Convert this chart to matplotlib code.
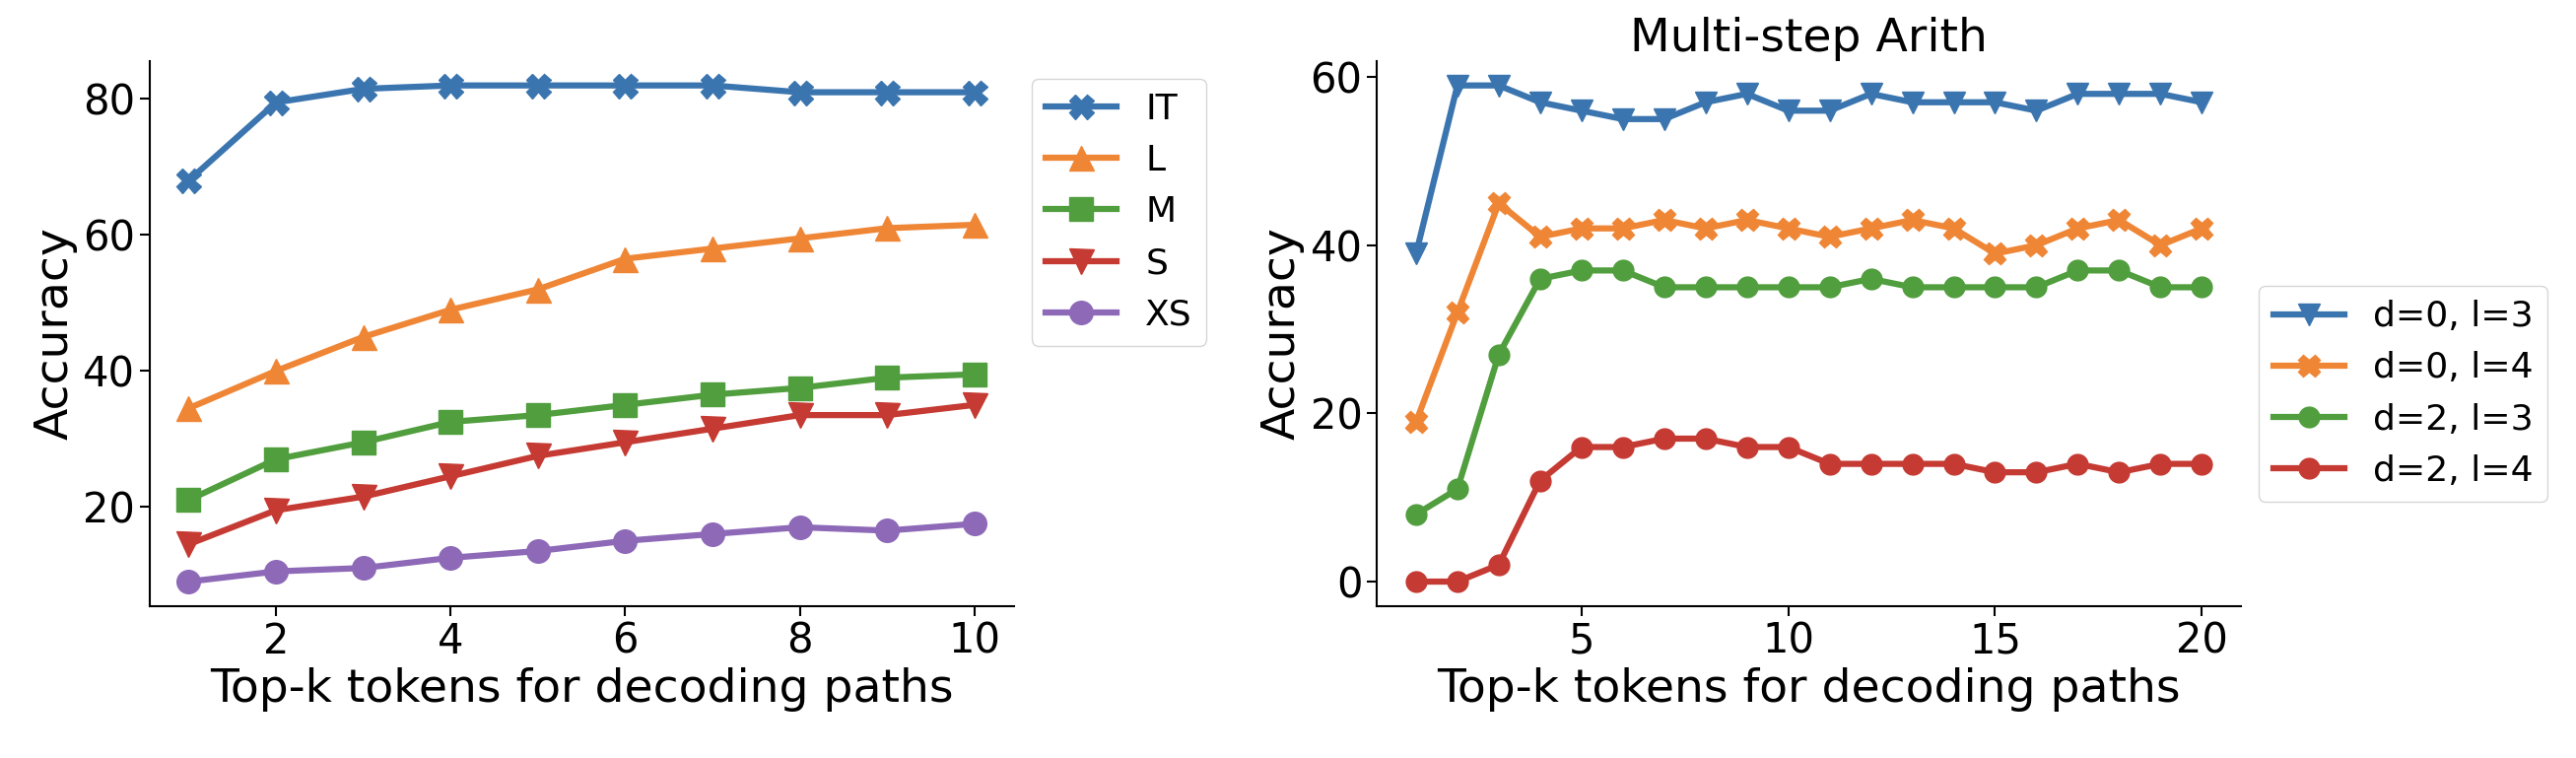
import matplotlib.pyplot as plt
import numpy as np

# left panel
k_left = np.arange(1, 11)
it_acc = [68, 79.5, 81.5, 82, 82, 82, 82, 81, 81, 81]
l_acc = [34.5, 40, 45, 49, 52, 56.5, 58, 59.5, 61, 61.5]
m_acc = [21, 27, 29.5, 32.5, 33.5, 35, 36.5, 37.5, 39, 39.5]
s_acc = [14.5, 19.5, 21.5, 24.5, 27.5, 29.5, 31.5, 33.5, 33.5, 35]
xs_acc = [9, 10.5, 11, 12.5, 13.5, 15, 16, 17, 16.5, 17.5]

# right panel
k_right = np.arange(1, 21)
d0_l3 = [39, 59, 59, 57, 56, 55, 55, 57, 58, 56, 56, 58, 57, 57, 57, 56, 58, 58, 58, 57]
d0_l4 = [19, 32, 45, 41, 42, 42, 43, 42, 43, 42, 41, 42, 43, 42, 39, 40, 42, 43, 40, 42]
d2_l3 = [8, 11, 27, 36, 37, 37, 35, 35, 35, 35, 35, 36, 35, 35, 35, 35, 37, 37, 35, 35]
d2_l4 = [0, 0, 2, 12, 16, 16, 17, 17, 16, 16, 14, 14, 14, 14, 13, 13, 14, 13, 14, 14]

blue, orange, green, red, purple = '#3b75af', '#ef8636', '#519e3e', '#c53a32', '#8d69b8'

plt.rcParams['font.size'] = 26
fig, (ax1, ax2) = plt.subplots(1, 2, figsize=(26.14, 7.69), dpi=100)

ax1.plot(k_left, it_acc, color=blue, marker='X', ms=18, lw=4.5, label='IT')
ax1.plot(k_left, l_acc, color=orange, marker='^', ms=18, lw=4.5, label='L')
ax1.plot(k_left, m_acc, color=green, marker='s', ms=17, lw=4.5, label='M')
ax1.plot(k_left, s_acc, color=red, marker='v', ms=18, lw=4.5, label='S')
ax1.plot(k_left, xs_acc, color=purple, marker='o', ms=17, lw=4.5, label='XS')
ax1.set_xticks([2, 4, 6, 8, 10])
ax1.set_yticks([20, 40, 60, 80])
ax1.set_xlabel('Top-k tokens for decoding paths', fontsize=34)
ax1.set_ylabel('Accuracy', fontsize=34)
ax1.tick_params(labelsize=30, width=1.5, length=7)
ax1.legend(loc='upper left', bbox_to_anchor=(1.0, 1.0), fontsize=26)

ax2.plot(k_right, d0_l3, color=blue, marker='v', ms=16, lw=4.5, label='d=0, l=3')
ax2.plot(k_right, d0_l4, color=orange, marker='X', ms=16, lw=4.5, label='d=0, l=4')
ax2.plot(k_right, d2_l3, color=green, marker='o', ms=15, lw=4.5, label='d=2, l=3')
ax2.plot(k_right, d2_l4, color=red, marker='o', ms=15, lw=4.5, label='d=2, l=4')
ax2.set_xticks([5, 10, 15, 20])
ax2.set_yticks([0, 20, 40, 60])
ax2.set_title('Multi-step Arith', fontsize=34)
ax2.set_xlabel('Top-k tokens for decoding paths', fontsize=34)
ax2.set_ylabel('Accuracy', fontsize=34)
ax2.tick_params(labelsize=30, width=1.5, length=7)
ax2.legend(loc='upper left', bbox_to_anchor=(1.0, 0.62), fontsize=26)

for ax in (ax1, ax2):
    ax.spines['top'].set_visible(False)
    ax.spines['right'].set_visible(False)
    for s in ('left', 'bottom'):
        ax.spines[s].set_linewidth(1.5)

plt.subplots_adjust(left=0.058, right=0.87, bottom=0.2, top=0.92, wspace=0.42)
fig.savefig('out.png')
